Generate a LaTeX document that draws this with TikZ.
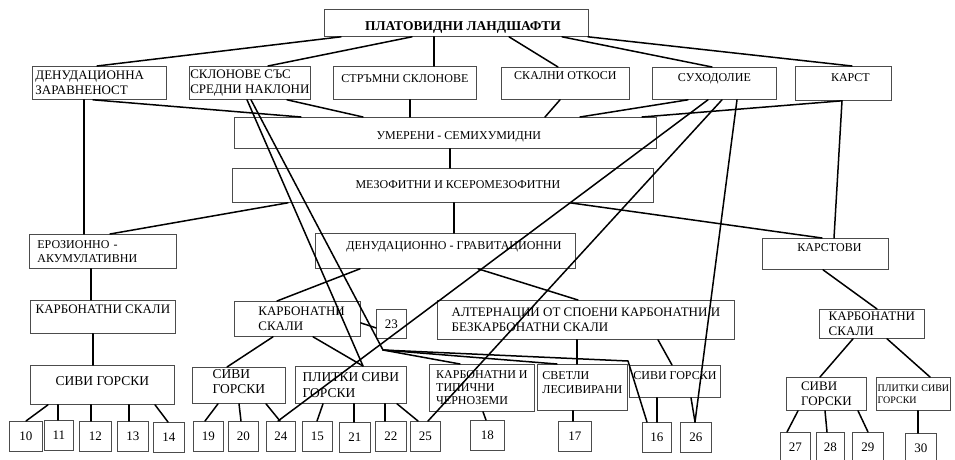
\documentclass[tikz,border=0pt]{standalone}
\usepackage{fontspec}
\setmainfont{Liberation Serif}
\tikzset{
  box/.style={draw=black!70, line width=0.8pt, anchor=north west, inner sep=0.5pt,
    align=left, font=\fontsize{12}{14}\selectfont},
  bigtext/.style={font=\fontsize{13}{15.5}\selectfont},
  num/.style={box, align=center, minimum height=30pt, font=\fontsize{13}{15}\selectfont},
  lift/.style={text height=8pt, text depth=#1},
  link/.style={line width=1.5pt, line cap=round},
}
\begin{document}
\begin{tikzpicture}[x=1pt, y=-1pt]
  \useasboundingbox (0,0) rectangle (955,459);
  \clip (0,0) rectangle (955,459);

  % top level and landforms
  \node[box, minimum width=264pt, minimum height=27pt, font=\fontsize{13.5}{15}\selectfont\bfseries,
    text height=14.6pt, text depth=0pt] (root) at (324,9) {\hspace*{13pt}ПЛАТОВИДНИ ЛАНДШАФТИ};
  \node[box, bigtext, minimum width=134pt, minimum height=33pt, text width=128pt, inner xsep=3pt]
    (den) at (32,66) {ДЕНУДАЦИОННА\\ЗАРАВНЕНОСТ};
  \node[box, bigtext, minimum width=121pt, minimum height=33pt] (skl) at (189,66) {СКЛОНОВЕ СЪС\\СРЕДНИ НАКЛОНИ};
  \node[box, minimum width=143pt, minimum height=33pt, lift=8pt] (str) at (333,66) {СТРЪМНИ СКЛОНОВЕ};
  \node[box, minimum width=128pt, minimum height=32pt, lift=15pt] (sko) at (501,67) {СКАЛНИ ОТКОСИ};
  \node[box, minimum width=124pt, minimum height=32pt, lift=12pt] (suh) at (652,67) {СУХОДОЛИЕ};
  \node[box, minimum width=96pt, minimum height=34pt, lift=12pt] (karst) at (795,66) {\hspace*{14pt}КАРСТ};

  % climate and vegetation
  \node[box, minimum width=422pt, minimum height=31pt, text height=14pt, text depth=0pt]
    (um) at (234,117) {\hspace*{27pt}УМЕРЕНИ - СЕМИХУМИДНИ};
  \node[box, minimum width=421pt, minimum height=34pt, lift=1pt]
    (mez) at (232,168) {\hspace*{30pt}МЕЗОФИТНИ И КСЕРОМЕЗОФИТНИ};

  % processes
  \node[box, minimum width=147pt, minimum height=34pt, text width=131pt, inner xsep=8pt]
    (er) at (29,234) {ЕРОЗИОННО -\\АКУМУЛАТИВНИ};
  \node[box, minimum width=260pt, minimum height=35pt, lift=10pt]
    (dg) at (315,233) {\hspace*{17pt}ДЕНУДАЦИОННО - ГРАВИТАЦИОННИ};
  \node[box, minimum width=126pt, minimum height=31pt, lift=12pt] (kv) at (762,238) {\hspace*{8pt}КАРСТОВИ};

  % rocks
  \node[box, bigtext, minimum width=145pt, minimum height=33pt, lift=15pt] (kl) at (30,300) {КАРБОНАТНИ СКАЛИ};
  \node[box, bigtext, minimum width=126pt, minimum height=35pt, text width=100pt, inner xsep=13pt]
    (kmid) at (234,301) {\hspace*{11pt}КАРБОНАТНИ\\\hspace*{11pt}СКАЛИ};
  \node[num, minimum width=30pt, minimum height=29pt] (n23) at (376,309) {23};
  \node[box, bigtext, minimum width=297pt, minimum height=39pt]
    (alt) at (437,300) {АЛТЕРНАЦИИ ОТ СПОЕНИ КАРБОНАТНИ И\\БЕЗКАРБОНАТНИ СКАЛИ};
  \node[box, bigtext, minimum width=105pt, minimum height=29pt] (kr) at (819,309) {КАРБОНАТНИ\\СКАЛИ};

  % soils
  \node[box, font=\fontsize{13.5}{16}\selectfont, minimum width=144pt, minimum height=39pt, lift=7pt]
    (sgl) at (30,365) {СИВИ ГОРСКИ};
  \node[box, font=\fontsize{13.5}{15.5}\selectfont, minimum width=93pt, minimum height=36pt, text depth=8pt]
    (sgm) at (192,367) {СИВИ\\ГОРСКИ};
  \node[box, font=\fontsize{13.5}{15.5}\selectfont, minimum width=111pt, minimum height=37pt]
    (pl) at (295,366) {ПЛИТКИ СИВИ\\ГОРСКИ};
  \node[box, font=\fontsize{12}{13}\selectfont, minimum width=105pt, minimum height=47pt]
    (kt) at (429,364) {КАРБОНАТНИ И\\ТИПИЧНИ\\ЧЕРНОЗЕМИ};
  \node[box, minimum width=90pt, minimum height=46pt, text depth=10pt] (sv) at (537,364) {СВЕТЛИ\\ЛЕСИВИРАНИ};
  \node[box, minimum width=91pt, minimum height=32pt, lift=11pt] (sgr) at (629,365) {СИВИ ГОРСКИ};
  \node[box, bigtext, minimum width=80pt, minimum height=33pt] (sgf) at (786,377) {СИВИ\\ГОРСКИ};
  \node[box, font=\fontsize{10}{12}\selectfont, minimum width=74pt, minimum height=33pt]
    (pf) at (876,377) {ПЛИТКИ СИВИ\\ГОРСКИ};

  % numbered units
  \foreach \n/\x/\y/\w in {10/9/421/33, 11/44/420/29, 12/79/421/32, 13/117/421/31, 14/153/422/31,
      19/193/421/30, 20/228/421/30, 24/266/421/29, 15/302/421/30, 21/339/422/31, 22/375/421/31,
      25/410/421/30, 18/470/420/34, 17/558/421/33, 16/642/422/29, 26/680/422/31,
      27/780/432/30, 28/816/432/28, 29/852/432/31, 30/905/433/31}
    \node[num, minimum width=\w pt] (n\n) at (\x,\y) {\n};

  \coordinate (jn) at (383,350);
  \coordinate (bend) at (628,361);

  % connectors
  \foreach \a/\to/\b in {17/den/65, 88/skl/79, 110/str/101, 185/sko/57, 238/suh/60, 264/karst/57}
    \draw[link] ([xshift=\a pt]root.south west) -- ([xshift=\b pt]\to.north west);
  \foreach \from/\a/\b in {den/61/67, skl/98/129, str/77/176, sko/59/311, suh/36/346, karst/47/408}
    \draw[link] ([xshift=\a pt]\from.south west) -- ([xshift=\b pt]um.north west);
  \draw[link] ([xshift=216pt]um.south west) -- ([xshift=218pt]mez.north west);
  \foreach \a/\to/\b in {56/er/81, 222/dg/139, 338/kv/60}
    \draw[link] ([xshift=\a pt]mez.south west) -- ([xshift=\b pt]\to.north west);
  \draw[link] ([xshift=52pt]den.south west) -- ([xshift=55pt]er.north west);
  \draw[link] ([xshift=47pt]karst.south west) -- ([xshift=72pt]kv.north west);
  \foreach \a/\to/\b in {56/n24/12, 70/n25/18, 85/n26/15}
    \draw[link] ([xshift=\a pt]suh.south west) -- ([xshift=\b pt]\to.north west);
  \draw[link] ([xshift=58pt]skl.south west) -- ([xshift=68pt]pl.north west);
  \draw[link] ([xshift=62pt]skl.south west) -- (jn);
  \draw[link] (jn) -- ([xshift=31pt]kt.north west);
  \draw[link] (jn) -- ([xshift=20pt]sv.north west);
  \draw[link] (jn) -- (bend) -- ([xshift=5pt]n16.north west);
  \draw[link] ([xshift=45pt]dg.south west) -- ([xshift=43pt]kmid.north west);
  \draw[link] ([xshift=163pt]dg.south west) -- ([xshift=141pt]alt.north west);
  \draw[link] ([xshift=62pt]er.south west) -- ([xshift=61pt]kl.north west);
  \draw[link] ([xshift=63pt]kl.south west) -- ([xshift=63pt]sgl.north west);
  \foreach \a/\to/\b in {18/n10/17, 28/n11/14, 61/n12/12, 99/n13/12, 125/n14/15}
    \draw[link] ([xshift=\a pt]sgl.south west) -- ([xshift=\b pt]\to.north west);
  \draw[link] ([yshift=-4pt]kmid.east) -- ([yshift=-4pt]n23.west);
  \foreach \a/\to/\b in {39/sgm/35, 79/pl/68}
    \draw[link] ([xshift=\a pt]kmid.south west) -- ([xshift=\b pt]\to.north west);
  \foreach \a/\to/\b in {26/n19/12, 47/n20/13, 74/n24/14}
    \draw[link] ([xshift=\a pt]sgm.south west) -- ([xshift=\b pt]\to.north west);
  \foreach \a/\to/\b in {28/n15/15, 59/n21/15, 90/n22/10, 102/n25/8}
    \draw[link] ([xshift=\a pt]pl.south west) -- ([xshift=\b pt]\to.north west);
  \foreach \a/\to/\b in {221/sgr/43, 140/sv/40}
    \draw[link] ([xshift=\a pt]alt.south west) -- ([xshift=\b pt]\to.north west);
  \draw[link] ([xshift=36pt]sv.south west) -- ([xshift=15pt]n17.north west);
  \draw[link] ([xshift=54pt]kt.south west) -- ([xshift=16pt]n18.north west);
  \foreach \a/\to/\b in {28/n16/15, 62/n26/15}
    \draw[link] ([xshift=\a pt]sgr.south west) -- ([xshift=\b pt]\to.north west);
  \draw[link] ([xshift=61pt]kv.south west) -- ([xshift=58pt]kr.north west);
  \foreach \a/\to/\b in {34/sgf/34, 68/pf/54}
    \draw[link] ([xshift=\a pt]kr.south west) -- ([xshift=\b pt]\to.north west);
  \foreach \a/\to/\b in {12/n27/7, 39/n28/11, 72/n29/16}
    \draw[link] ([xshift=\a pt]sgf.south west) -- ([xshift=\b pt]\to.north west);
  \draw[link] ([xshift=42pt]pf.south west) -- ([xshift=13pt]n30.north west);
\end{tikzpicture}
\end{document}
